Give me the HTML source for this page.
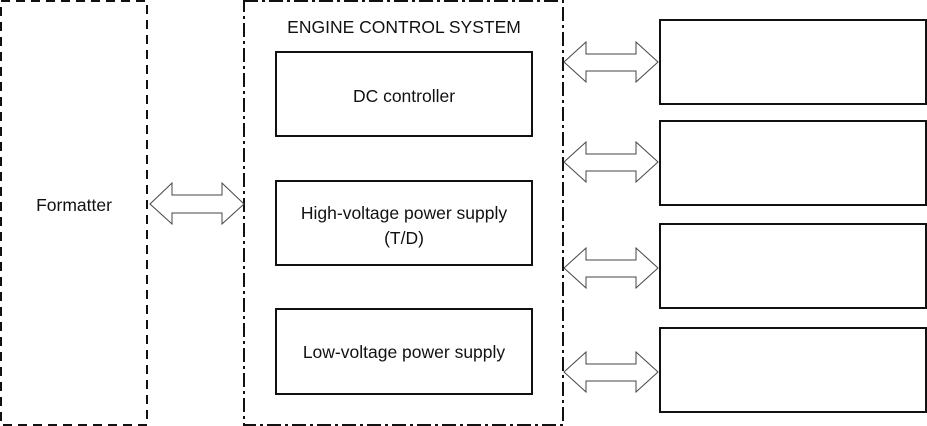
<!DOCTYPE html>
<html><head><style>
body{margin:0;background:#fff;width:927px;height:426px;overflow:hidden}
svg{display:block}
text{font-family:"Liberation Sans",sans-serif;font-size:17.5px;fill:#111}
</style></head><body>
<svg width="927" height="426" viewBox="0 0 927 426">
<g fill="none" stroke="#111" stroke-width="2">
<path d="M1,1 H147 V425 H1 Z" stroke-dasharray="9,6"/>
<path d="M244,1 H563 V425 H244 Z" stroke-dasharray="14,4,3,4"/>
<rect x="276" y="52" width="256" height="84"/>
<rect x="276" y="181" width="256" height="84"/>
<rect x="276" y="309" width="256" height="85"/>
<rect x="660" y="20" width="266" height="84"/>
<rect x="660" y="121" width="266" height="84"/>
<rect x="660" y="224" width="266" height="84"/>
<rect x="660" y="328" width="266" height="84"/>
</g>
<g fill="#fff" stroke="#444" stroke-width="1">
<path d="M150,204 L172,183 V195 H222 V183 L244,204 L222,224 V213 H172 V224 Z"/>
<path d="M564,62 L586,42 V54 H636 V42 L658,62 L636,82 V71 H586 V82 Z"/>
<path d="M564,162 L586,142 V154 H636 V142 L658,162 L636,182 V171 H586 V182 Z"/>
<path d="M564,268 L586,248 V260 H636 V248 L658,268 L636,288 V277 H586 V288 Z"/>
<path d="M564,372 L586,352 V364 H636 V352 L658,372 L636,392 V381 H586 V392 Z"/>
</g>
<text x="74" y="211" text-anchor="middle">Formatter</text>
<text x="404" y="33" text-anchor="middle">ENGINE CONTROL SYSTEM</text>
<text x="404" y="102" text-anchor="middle">DC controller</text>
<text x="404" y="219" text-anchor="middle">High-voltage power supply</text>
<text x="404" y="244" text-anchor="middle">(T/D)</text>
<text x="404" y="358" text-anchor="middle">Low-voltage power supply</text>
</svg>
</body></html>
